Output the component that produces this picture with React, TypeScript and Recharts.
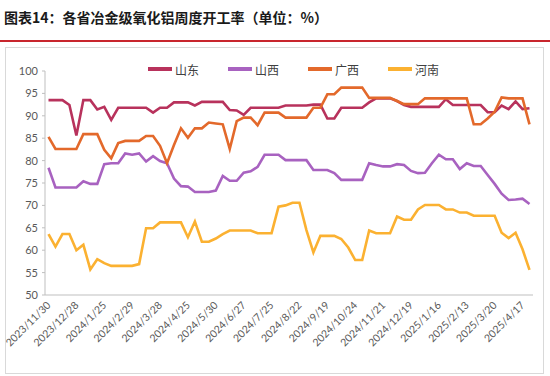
import React from "react";
import { LineChart, Line, XAxis, YAxis } from "recharts";

const dates = [
  "2023/11/30", "2023/12/7", "2023/12/14", "2023/12/21", "2023/12/28",
  "2024/1/4", "2024/1/11", "2024/1/18", "2024/1/25", "2024/2/1",
  "2024/2/8", "2024/2/22", "2024/2/29", "2024/3/7", "2024/3/14",
  "2024/3/21", "2024/3/28", "2024/4/3", "2024/4/11", "2024/4/18",
  "2024/4/25", "2024/5/9", "2024/5/16", "2024/5/23", "2024/5/30",
  "2024/6/6", "2024/6/13", "2024/6/20", "2024/6/27", "2024/7/4",
  "2024/7/11", "2024/7/18", "2024/7/25", "2024/8/1", "2024/8/8",
  "2024/8/15", "2024/8/22", "2024/8/29", "2024/9/5", "2024/9/12",
  "2024/9/19", "2024/9/26", "2024/10/10", "2024/10/17", "2024/10/24",
  "2024/10/31", "2024/11/7", "2024/11/14", "2024/11/21", "2024/11/28",
  "2024/12/5", "2024/12/12", "2024/12/19", "2024/12/26", "2025/1/2",
  "2025/1/9", "2025/1/16", "2025/1/23", "2025/1/30", "2025/2/6",
  "2025/2/13", "2025/2/20", "2025/2/27", "2025/3/13", "2025/3/20",
  "2025/3/27", "2025/4/3", "2025/4/10", "2025/4/17", "2025/4/24",
];

const shandong = [
  93.5, 93.5, 93.5, 92.4, 85.6, 93.5, 93.5, 91.4, 92.0, 89.1,
  91.8, 91.8, 91.8, 91.8, 91.8, 90.7, 91.8, 91.8, 93.0, 93.0,
  93.0, 92.3, 93.1, 93.1, 93.1, 93.1, 91.3, 91.2, 90.2, 91.8,
  91.8, 91.8, 91.8, 91.8, 92.3, 92.3, 92.3, 92.3, 92.5, 92.5,
  89.4, 89.4, 91.8, 91.8, 91.8, 91.8, 93.0, 93.9, 93.9, 93.9,
  93.3, 92.4, 92.0, 92.0, 92.0, 92.0, 92.0, 93.7, 92.4, 92.4,
  92.4, 92.4, 92.4, 90.8, 90.8, 92.3, 91.5, 93.2, 91.5, 91.7,
];

const shanxi = [
  78.4, 74.0, 74.0, 74.0, 74.0, 75.4, 74.8, 74.8, 79.2, 79.4,
  79.4, 81.6, 81.3, 81.6, 79.8, 81.0, 79.9, 79.4, 76.0, 74.3,
  74.2, 73.0, 73.0, 73.0, 73.3, 76.6, 75.5, 75.5, 77.3, 77.6,
  78.6, 81.3, 81.3, 81.3, 80.1, 80.1, 80.1, 80.1, 77.9, 77.9,
  77.9, 77.2, 75.7, 75.7, 75.7, 75.7, 79.4, 79.0, 78.7, 78.7,
  79.2, 79.0, 77.7, 77.2, 77.3, 79.4, 81.3, 80.3, 80.3, 78.1,
  79.4, 78.8, 78.8, 76.8, 74.8, 72.6, 71.2, 71.3, 71.5, 70.3,
];

const guangxi = [
  85.3, 82.6, 82.6, 82.6, 82.6, 85.9, 85.9, 85.9, 82.4, 80.5,
  83.9, 84.4, 84.4, 84.4, 85.5, 85.5, 83.3, 79.4, 83.5, 87.2,
  85.1, 87.2, 87.2, 88.5, 88.3, 88.1, 82.6, 88.8, 89.6, 89.6,
  87.9, 90.7, 90.7, 90.7, 89.6, 89.6, 89.6, 89.6, 91.8, 91.8,
  94.8, 94.8, 96.3, 96.3, 96.3, 96.3, 94.0, 94.0, 94.0, 94.0,
  93.3, 92.6, 92.6, 92.6, 93.9, 93.9, 93.9, 93.9, 93.9, 93.9,
  93.9, 88.1, 88.1, 89.4, 90.9, 94.1, 93.9, 93.9, 93.9, 88.1,
];

const henan = [
  63.6, 60.8, 63.6, 63.6, 60.0, 61.2, 55.7, 58.0, 57.1, 56.5,
  56.5, 56.5, 56.5, 56.9, 64.9, 64.9, 66.2, 66.2, 66.2, 66.2,
  62.9, 66.4, 61.9, 61.9, 62.6, 63.6, 64.4, 64.4, 64.4, 64.4,
  63.8, 63.8, 63.8, 69.7, 70.0, 70.6, 70.6, 64.5, 59.5, 63.2,
  63.2, 63.2, 62.5, 60.6, 57.8, 57.8, 64.4, 63.8, 63.8, 63.8,
  67.5, 66.8, 66.8, 69.1, 70.1, 70.1, 70.1, 69.1, 69.1, 68.4,
  68.4, 67.7, 67.7, 67.7, 67.7, 63.9, 62.7, 63.9, 60.2, 55.6,
];

const yTicks = [50, 55, 60, 65, 70, 75, 80, 85, 90, 95, 100];

const series = [
  { key: "山东", values: shandong, color: "#B8325C" },
  { key: "山西", values: shanxi, color: "#A862C0" },
  { key: "广西", values: guangxi, color: "#E3692B" },
  { key: "河南", values: henan, color: "#FBB131" },
];

const data = dates.map((date, i) => {
  const row: Record<string, string | number> = { date };
  series.forEach((s) => {
    row[s.key] = s.values[i];
  });
  return row;
});

const axisFont = "Lato, 'Noto Sans', sans-serif";

const DateTick = (props: any) => {
  const { x, y, payload } = props;
  return (
    <g transform={`translate(${x},${y})`}>
      <text
        x={0}
        y={0}
        dy={4}
        textAnchor="end"
        transform="rotate(-45)"
        fontSize={10.5}
        fill="#595959"
        fontFamily={axisFont}
      >
        {payload.value}
      </text>
    </g>
  );
};

export default function App() {
  return (
    <div
      style={{
        position: "absolute",
        left: 0,
        top: 0,
        width: 550,
        height: 376,
        background: "#fff",
        overflow: "hidden",
      }}
    >
      <div
        style={{
          position: "absolute",
          left: 4,
          top: 7,
          fontFamily: "'Noto Sans CJK SC', sans-serif",
          fontWeight: 700,
          fontSize: 14,
          color: "#1a1a1a",
          whiteSpace: "nowrap",
        }}
      >
        图表14：各省冶金级氧化铝周度开工率（单位：%）
      </div>
      <div
        style={{
          position: "absolute",
          left: 0,
          top: 40,
          width: 550,
          height: 2,
          background: "#C8262D",
        }}
      />
      <div
        style={{
          position: "absolute",
          left: 5,
          top: 47,
          width: 537,
          height: 325,
          border: "1px solid #d9d9d9",
        }}
      />
      {/* legend */}
      {series.map((s, i) => (
        <div
          key={s.key}
          style={{
            position: "absolute",
            left: 148 + i * 80,
            top: 61,
            height: 16,
            display: "flex",
            alignItems: "center",
            fontFamily: "'Noto Sans CJK SC', sans-serif",
            fontSize: 12,
            color: "#404040",
          }}
        >
          <span
            style={{
              display: "inline-block",
              width: 24,
              height: 4,
              background: s.color,
              marginRight: 3,
            }}
          />
          {s.key}
        </div>
      ))}
      <div style={{ position: "absolute", left: 0, top: 0 }}>
        <LineChart
          width={550}
          height={376}
          data={data}
          margin={{ top: 71, right: 17, left: 15, bottom: 21 }}
        >
          <XAxis
            dataKey="date"
            interval={3}
            tickLine={false}
            axisLine={{ stroke: "#bfbfbf" }}
            padding={{ left: 3.5, right: 3.5 }}
            tick={<DateTick />}
            height={60}
          />
          <YAxis
            domain={[50, 100]}
            ticks={yTicks}
            width={30}
            tickSize={3}
            tickMargin={4}
            axisLine={{ stroke: "#bfbfbf" }}
            tickLine={{ stroke: "#bfbfbf" }}
            tick={{ fontSize: 11, fill: "#595959", fontFamily: axisFont }}
          />
          {series.map((s) => (
            <Line
              key={s.key}
              dataKey={s.key}
              stroke={s.color}
              strokeWidth={2.6}
              dot={false}
              type="linear"
              isAnimationActive={false}
            />
          ))}
        </LineChart>
      </div>
    </div>
  );
}
